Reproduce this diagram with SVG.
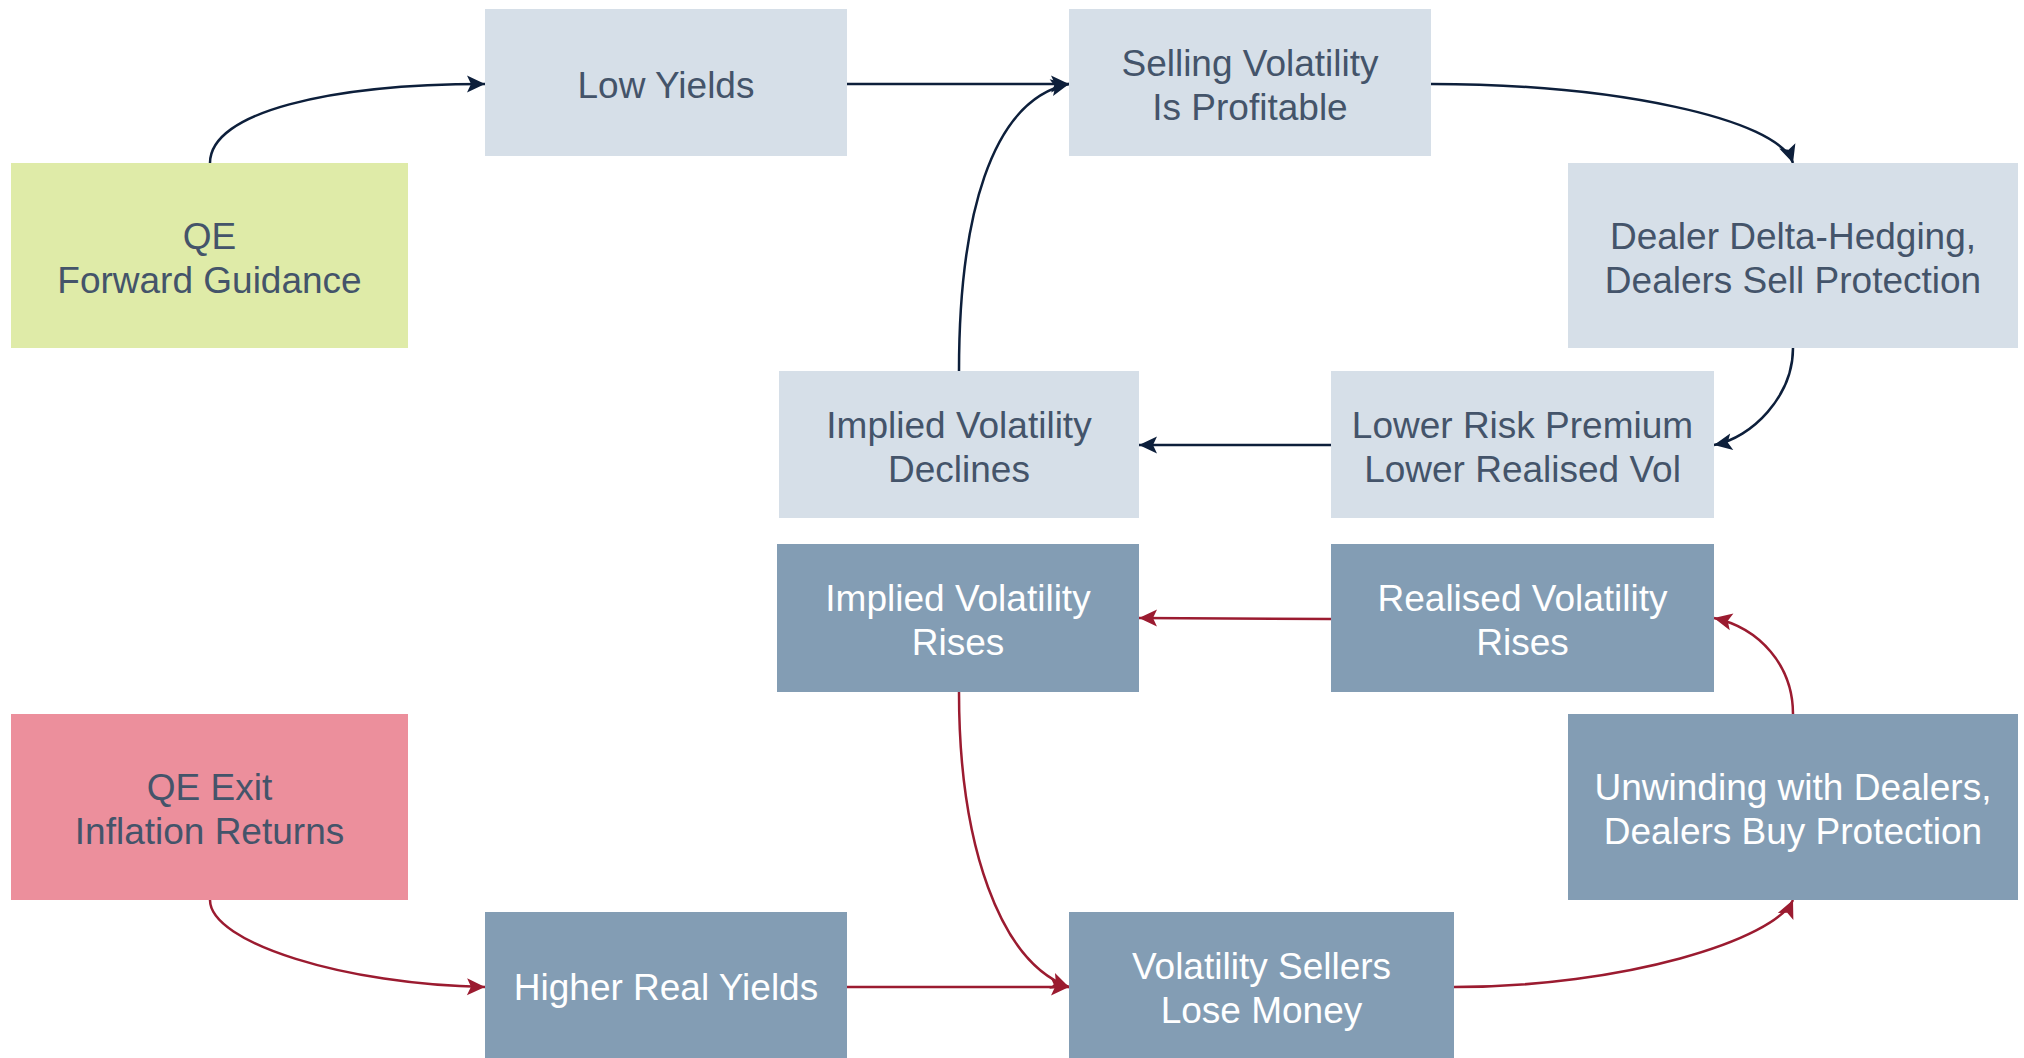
<svg xmlns="http://www.w3.org/2000/svg" width="2024" height="1058" viewBox="0 0 2024 1058">
<defs>
<style>
.light{fill:#D6DFE8}
.dark{fill:#839DB4}
.green{fill:#DFEBA8}
.pink{fill:#EC8F9C}
text{font-family:"Liberation Sans",Arial,sans-serif;font-size:37px;text-anchor:middle}
.t{fill:#44546A}
.w{fill:#FFFFFF}
.cn{fill:none;stroke:#0D1F3B;stroke-width:2.5}
.cr{fill:none;stroke:#9B1B30;stroke-width:2.5}
</style>
<marker id="an" markerUnits="userSpaceOnUse" markerWidth="20" markerHeight="20" viewBox="0 0 20 20" refX="19" refY="10" orient="auto">
<path d="M1,1.5 L19,10 L1,18.5 L5,10 z" fill="#0D1F3B"/>
</marker>
<marker id="ar" markerUnits="userSpaceOnUse" markerWidth="20" markerHeight="20" viewBox="0 0 20 20" refX="19" refY="10" orient="auto">
<path d="M1,1.5 L19,10 L1,18.5 L5,10 z" fill="#9B1B30"/>
</marker>
</defs>
<rect width="2024" height="1058" fill="#FFFFFF"/>
<g id="connectors">
<path class="cn" marker-end="url(#an)" d="M210,163 C210,112 330,84 485,84"/>
<path class="cn" marker-end="url(#an)" d="M847,84 L1069,84"/>
<path class="cn" marker-end="url(#an)" d="M1431,84 C1612,84 1778,118 1793,163"/>
<path class="cn" marker-end="url(#an)" d="M1793,348 C1793,396 1752,438 1714,445"/>
<path class="cn" marker-end="url(#an)" d="M1331,445 L1139,445"/>
<path class="cn" marker-end="url(#an)" d="M959,371 C959,220 990,100 1069,84"/>
<path class="cr" marker-end="url(#ar)" d="M210,900 C210,943 347,985 485,987"/>
<path class="cr" marker-end="url(#ar)" d="M847,987 L1069,987"/>
<path class="cr" marker-end="url(#ar)" d="M959,692 C959,845 1000,962 1069,987"/>
<path class="cr" marker-end="url(#ar)" d="M1454,987 C1623,987 1775,940 1793,900"/>
<path class="cr" marker-end="url(#ar)" d="M1793,714 C1793,666 1760,628 1714,618"/>
<path class="cr" marker-end="url(#ar)" d="M1331,619 L1139,618"/>
</g>
<g id="node-low-yields"><rect class="light" x="485" y="9" width="362" height="147"/><text class="t" x="666" y="97.5">Low Yields</text></g>
<g id="node-selling-vol"><rect class="light" x="1069" y="9" width="362" height="147"/><text class="t" x="1250" y="75.5">Selling Volatility</text><text class="t" x="1250" y="119.5">Is Profitable</text></g>
<g id="node-qe"><rect class="green" x="11" y="163" width="397" height="185"/><text class="t" x="209.5" y="248.5">QE</text><text class="t" x="209.5" y="292.5">Forward Guidance</text></g>
<g id="node-dealer-hedging"><rect class="light" x="1568" y="163" width="450" height="185"/><text class="t" x="1793" y="248.5">Dealer Delta-Hedging,</text><text class="t" x="1793" y="292.5">Dealers Sell Protection</text></g>
<g id="node-implied-declines"><rect class="light" x="779" y="371" width="360" height="147"/><text class="t" x="959" y="437.5">Implied Volatility</text><text class="t" x="959" y="481.5">Declines</text></g>
<g id="node-lower-risk"><rect class="light" x="1331" y="371" width="383" height="147"/><text class="t" x="1522.5" y="437.5">Lower Risk Premium</text><text class="t" x="1522.5" y="481.5">Lower Realised Vol</text></g>
<g id="node-implied-rises"><rect class="dark" x="777" y="544" width="362" height="148"/><text class="w" x="958" y="611">Implied Volatility</text><text class="w" x="958" y="655">Rises</text></g>
<g id="node-realised-rises"><rect class="dark" x="1331" y="544" width="383" height="148"/><text class="w" x="1522.5" y="611">Realised Volatility</text><text class="w" x="1522.5" y="655">Rises</text></g>
<g id="node-qe-exit"><rect class="pink" x="11" y="714" width="397" height="186"/><text class="t" x="209.5" y="800">QE Exit</text><text class="t" x="209.5" y="844">Inflation Returns</text></g>
<g id="node-unwinding"><rect class="dark" x="1568" y="714" width="450" height="186"/><text class="w" x="1793" y="800">Unwinding with Dealers,</text><text class="w" x="1793" y="844">Dealers Buy Protection</text></g>
<g id="node-higher-real"><rect class="dark" x="485" y="912" width="362" height="147"/><text class="w" x="666" y="1000">Higher Real Yields</text></g>
<g id="node-vol-sellers"><rect class="dark" x="1069" y="912" width="385" height="147"/><text class="w" x="1261.5" y="978.5">Volatility Sellers</text><text class="w" x="1261.5" y="1022.5">Lose Money</text></g>
</svg>
